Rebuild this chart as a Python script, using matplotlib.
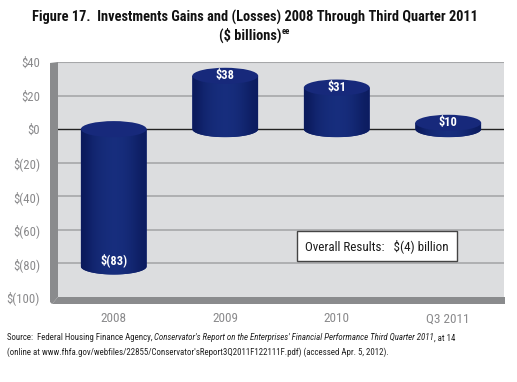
import matplotlib
matplotlib.use("Agg")
import matplotlib.pyplot as plt
import numpy as np
from matplotlib.patches import Ellipse, Polygon, PathPatch
from matplotlib.path import Path
from matplotlib.colors import LinearSegmentedColormap
from matplotlib import font_manager

categories = ["2008", "2009", "2010", "Q3 2011"]
values = [-83, 38, 31, 10]
value_labels = ["$(83)", "$38", "$31", "$10"]
yticks = [40, 20, 0, -20, -40, -60, -80, -100]
ytick_labels = ["$40", "$20", "$0", "$(20)", "$(40)", "$(60)", "$(80)", "$(100)"]
title_line1 = "Figure 17.  Investments Gains and (Losses) 2008 Through Third Quarter 2011"
title_line2 = "($ billions)"
title_sup = "ee"
box_text = "Overall Results:   $(4) billion"
source_pieces = [("Source:  Federal Housing Finance Agency, ", "normal"),
                 ("Conservator's Report on the Enterprises' Financial Performance Third Quarter 2011", "italic"),
                 (", at 14", "normal")]
source_line2 = "(online at www.fhfa.gov/webfiles/22855/Conservator'sReport3Q2011F122111F.pdf) (accessed Apr. 5, 2012)."

# choose a condensed sans family if one is installed
available = {}
for f in font_manager.fontManager.ttflist:
    available.setdefault(f.name, set()).add((f.weight if isinstance(f.weight, int) else 400, f.style))
prefs = ["Roboto Condensed", "Arial Narrow", "Liberation Sans Narrow", "PT Sans Narrow",
         "Archivo Narrow", "Fira Sans Condensed", "IBM Plex Sans Condensed", "Open Sans Condensed",
         "Barlow Condensed", "Sofia Sans Semi Condensed"]
main_font = "Liberation Sans"
for p in prefs:
    if p in available:
        main_font = p
        break
bold_font = main_font
if not any(w >= 600 for w, s in available.get(main_font, set())):
    bold_font = "Liberation Sans"
FONT = [main_font, "DejaVu Sans"]
BFONT = [bold_font, "DejaVu Sans"]
plt.rcParams['font.family'] = FONT

W, H = 517, 382
fig = plt.figure(figsize=(W / 100, H / 100), dpi=100)
renderer = fig.canvas.get_renderer()

def fx(px):
    return px / W

def fy(py):
    return 1 - py / H

def fit_size(txt, target_px, **kw):
    t = fig.text(0, 0, txt, fontsize=10, **kw)
    w = t.get_window_extent(renderer=renderer).width
    t.remove()
    return 10 * target_px / w

ax_l, ax_r, ax_t, ax_b = 58, 504, 62, 297
ax = fig.add_axes([fx(ax_l), fy(ax_b), fx(ax_r - ax_l), fy(ax_t) - fy(ax_b)])
ax.set_facecolor("#dcdddf")
ax.set_xlim(-0.5, 3.5)
ax.set_ylim(-100, 40)
for s in ax.spines.values():
    s.set_visible(False)

ytick_fs = min(fit_size("$(100)", 33), 10.5)
xtick_fs = min(fit_size("Q3 2011", 43), 10.5)
ax.set_yticks(yticks)
ax.set_yticklabels(ytick_labels, color="#8a8a8c", fontsize=ytick_fs)
ax.tick_params(axis="y", length=0, pad=13)
ax.set_xticks(range(len(categories)))
ax.set_xticklabels(categories, color="#8a8a8c", fontsize=xtick_fs)
ax.tick_params(axis="x", length=0, pad=11)

for t in yticks:
    if t == 0:
        ax.axhline(t, color="#222222", lw=1.0, zorder=1)
    elif t not in (40, -100):
        ax.axhline(t, color="#a6a7a9", lw=1.2, zorder=1)
ax.axhline(40, color="#a6a7a9", lw=1.5, zorder=1)

# left wall and floor (figure pixels)
wall = Polygon([[fx(50), fy(63)], [fx(58), fy(62)], [fx(58), fy(297)], [fx(52), fy(304)], [fx(50), fy(302)]],
               closed=True, transform=fig.transFigure, facecolor="#8a8b8d", edgecolor="none")
fig.patches.append(wall)
floor = Polygon([[fx(58), fy(297)], [fx(505), fy(297)], [fx(505), fy(304)], [fx(52), fy(304)]],
                closed=True, transform=fig.transFigure, facecolor="#8a8b8d", edgecolor="none")
fig.patches.append(floor)

# cylinders
half_w = 0.295
ry = 4.8
grad = np.array([[0.0, 0.4, 0.6, 0.7, 0.78, 0.72, 0.6, 0.35, 0.1]])
cmap = LinearSegmentedColormap.from_list("cyl", ["#0b1a5c", "#1b3488"])
label_fs = min(fit_size("$(83)", 27, fontweight="bold", family=BFONT), 11)

for i, v in enumerate(values):
    if v >= 0:
        y_bot_c = 0.0
        y_top_c = v - 1.3 * ry
    else:
        y_top_c = 0.0
        y_bot_c = v + 0.25 * ry
    x0, x1 = i - half_w, i + half_w
    tt = np.linspace(np.pi, 2 * np.pi, 40)
    bx = i + half_w * np.cos(tt)
    by = y_bot_c + ry * np.sin(tt)
    verts = [(x0, y_top_c)] + list(zip(bx, by)) + [(x1, y_top_c), (x0, y_top_c)]
    body = PathPatch(Path(verts), facecolor="#13287a", edgecolor="none", zorder=3)
    ax.add_patch(body)
    im = ax.imshow(grad, cmap=cmap, vmin=0, vmax=1, extent=[x0, x1, y_bot_c - ry, y_top_c],
                   aspect="auto", zorder=3.5, interpolation="bicubic")
    im.set_clip_path(body)
    top = Ellipse((i, y_top_c), 2 * half_w, 2 * ry, facecolor="#17297b", edgecolor="none", zorder=4)
    ax.add_patch(top)
    ly = y_top_c if v >= 0 else y_bot_c + 4
    ax.text(i, ly, value_labels[i], color="white", fontsize=label_fs, fontweight="bold",
            family=BFONT, ha="center", va="center", zorder=5)

ax.set_xlim(-0.5, 3.5)
ax.set_ylim(-100, 40)

# Overall results box
box_fs = min(fit_size(box_text, 143), 10.5)
fig.text(fx(377), fy(246), box_text, fontsize=box_fs, color="#1a1a1a", ha="center", va="center",
         bbox=dict(boxstyle="square,pad=0.6", facecolor="white", edgecolor="#444444", lw=1.0))

# title
title_fs = min(fit_size(title_line1, 445, fontweight="bold", family=BFONT), 12)
fig.text(fx(254.5), fy(17), title_line1, fontsize=title_fs, fontweight="bold", family=BFONT,
         ha="center", va="center", color="#111111")
t2 = fig.text(fx(250), fy(35), title_line2, fontsize=title_fs, fontweight="bold", family=BFONT,
              ha="center", va="center", color="#111111")
bb2 = t2.get_window_extent(renderer=renderer)
fig.text(bb2.x1 / W + fx(0.5), fy(31), title_sup, fontsize=title_fs * 0.6, fontweight="bold",
         family=BFONT, ha="left", va="center", color="#111111")

# source note with mixed styles
full1 = "".join(p for p, s in source_pieces)
src_fs = min(fit_size(full1, 455), 8)
x = fx(7)
for txt, st in source_pieces:
    t = fig.text(x, fy(338), txt, fontsize=src_fs, style=st, ha="left", va="center", color="#222222")
    x += t.get_window_extent(renderer=renderer).width / W
fig.text(fx(7), fy(352), source_line2, fontsize=src_fs, ha="left", va="center", color="#222222")

fig.savefig("out.png", dpi=100)
